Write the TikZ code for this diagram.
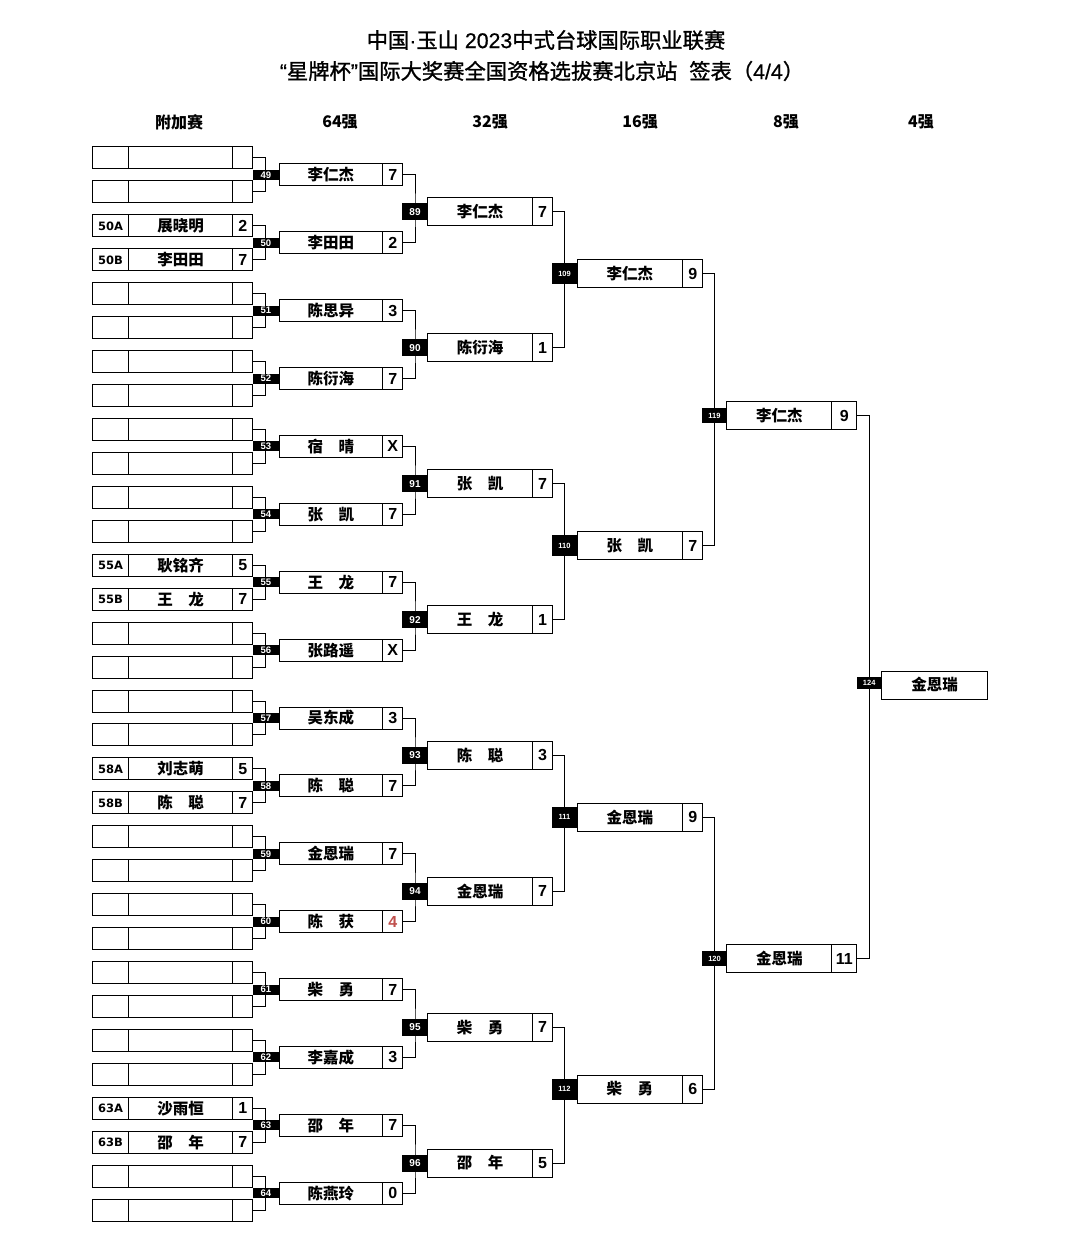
\documentclass[tikz,border=0pt]{standalone}
\usepackage{fontspec}
\setmainfont{Noto Sans CJK SC}
\newfontfamily\titlefam[FakeBold=1.2]{Noto Sans CJK SC}
\newfontfamily\titlelat[FakeBold=0.6]{Liberation Sans}
\newfontfamily\arialfam{Liberation Sans}
\newfontfamily\verdfam{DejaVu Sans}
\usepackage{xcolor}
\definecolor{ink}{HTML}{000000}
\definecolor{cLose}{HTML}{C0504D}
\usepackage{tikz}
\usetikzlibrary{positioning,backgrounds}
\newcommand\fName{\bfseries\fontsize{15.5}{16}\selectfont}
\newcommand\fScore{\arialfam\bfseries\fontsize{16}{16}\selectfont}
\newcommand\fCode{\verdfam\bfseries\fontsize{11.5}{12}\selectfont}
\newcommand\fHead{\bfseries\fontsize{16}{16}\selectfont}
\newcommand\fTitle{\titlefam\fontsize{21.3}{21}\selectfont}
\newcommand\lat[1]{{\titlelat #1}}
\tikzset{
  cell/.style={draw=ink,line width=1pt,fill=white,inner sep=0pt,outer sep=0pt,
    minimum height=22pt,font=\fName},
  tallcell/.style={cell,minimum height=28pt},
  scorecell/.style={font=\fScore},
  tag/.style={fill=ink,text=white,inner sep=0pt,outer sep=0pt,
    font=\arialfam\bfseries\fontsize{#1}{#1}\selectfont},
  tag/.default=9.5,
  codetxt/.style={inner sep=0pt,font=\fCode},
  nametxt/.style={inner sep=0pt,font=\fName},
  scoretxt/.style={inner sep=0pt,font=\fScore},
  link/.style={draw=ink,line width=1pt},
  headtxt/.style={font=\fHead},
  titletxt/.style={font=\fTitle}}

\begin{document}
\begin{tikzpicture}[x=1pt,y=-1pt]
  \useasboundingbox (0,0) rectangle (1080,1246);
  % title and round headers
  \node[titletxt] (t1) at (546,40) {中国\lat{·}玉山\lat{ 2023}中式台球国际职业联赛};
  \node[titletxt] (t2) at (542,71) {\lat{“}星牌杯\lat{”}国际大奖赛全国资格选拔赛北京站\lat{\ \ }签表（\lat{4/4}）};
  \foreach \hd/\hx [count=\c] in {附加赛/179,64强/340,32强/490,16强/640,8强/786,4强/921}
    \node[headtxt] (h\c) at (\hx,122) {\hd};

  % play-off slots
  \foreach \i in {0,...,31}{
    \node[cell,minimum width=35.6pt] (pl\i) at (110.5,158+33.94*\i) {};
    \node[cell,minimum width=104.4pt,right=0pt of pl\i] (pn\i) {};
    \node[cell,minimum width=20pt,right=0pt of pn\i] (ps\i) {};
  }
  \foreach \r/\cd/\nm/\sc in {2/50A/展晓明/2,3/50B/李田田/7,12/55A/耿铭齐/5,13/55B/王　龙/7,
      18/58A/刘志萌/5,19/58B/陈　聪/7,28/63A/沙雨恒/1,29/63B/邵　年/7}{
    \node[codetxt] (pc\r) at (pl\r) {\cd};
    \node[nametxt] (pp\r) at (pn\r) {\nm};
    \node[scoretxt] (pq\r) at (ps\r) {\sc};
  }

  % last 64
  \foreach \nm/\sc [count=\j from 0] in {李仁杰/7,李田田/2,陈思异/3,陈衍海/7,宿　晴/X,张　凯/7,
      王　龙/7,张路遥/X,吴东成/3,陈　聪/7,金恩瑞/7,陈　获/{\color{cLose}4},柴　勇/7,李嘉成/3,
      邵　年/7,陈燕玲/0}{
    \pgfmathtruncatemacro{\mn}{49+\j}
    \node[tag,minimum width=26.3pt,minimum height=10pt] (m\mn) at (265.85,174.97+67.88*\j) {\mn};
    \node[cell,minimum width=103.7pt,right=0pt of m\mn] (n\mn) {\nm};
    \node[cell,scorecell,minimum width=20pt,right=0pt of n\mn] (s\mn) {\sc};
  }

  % last 32
  \foreach \nm/\sc [count=\k from 0] in {李仁杰/7,陈衍海/1,张　凯/7,王　龙/1,陈　聪/3,金恩瑞/7,
      柴　勇/7,邵　年/5}{
    \pgfmathtruncatemacro{\mn}{89+\k}
    \node[tag=10,minimum width=25.7pt,minimum height=17pt] (m\mn) at (415,212+135.86*\k) {\mn};
    \node[tallcell,minimum width=104.6pt,right=0pt of m\mn] (n\mn) {\nm};
    \node[tallcell,scorecell,minimum width=20.4pt,right=0pt of n\mn] (s\mn) {\sc};
  }

  % last 16
  \foreach \nm/\sc [count=\k from 0] in {李仁杰/9,张　凯/7,金恩瑞/9,柴　勇/6}{
    \pgfmathtruncatemacro{\mn}{109+\k}
    \node[tag=7.5,minimum width=25pt,minimum height=21pt] (m\mn) at (564.5,274+271.7*\k) {\mn};
    \node[tallcell,minimum width=105.7pt,right=0pt of m\mn] (n\mn) {\nm};
    \node[tallcell,scorecell,minimum width=20pt,right=0pt of n\mn] (s\mn) {\sc};
  }

  % last 8
  \foreach \nm/\sc [count=\k from 0] in {李仁杰/9,金恩瑞/11}{
    \pgfmathtruncatemacro{\mn}{119+\k}
    \node[tag=7.5,minimum width=24.7pt,minimum height=15pt] (m\mn) at (714.5,415.5+543.3*\k) {\mn};
    \node[tallcell,minimum width=105pt,right=0pt of m\mn] (n\mn) {\nm};
    \node[tallcell,scorecell,minimum width=25pt,right=0pt of n\mn] (s\mn) {\sc};
  }

  % last 4
  \node[tag=7.5,minimum width=25pt,minimum height=12.6pt] (m124) at (869.2,683) {124};
  \node[tallcell,minimum width=105.6pt,right=0pt of m124,yshift=-2pt] (n124) {金恩瑞};

  % brackets
  \begin{scope}[on background layer]
    \fill[white] (0,0) rectangle (1080,1246);
    \foreach \j in {0,...,15}{
      \pgfmathtruncatemacro{\mn}{49+\j}
      \pgfmathtruncatemacro{\ra}{2*\j}
      \pgfmathtruncatemacro{\rb}{2*\j+1}
      \draw[link] (ps\ra.east) -| (m\mn.center) |- (ps\rb.east);
    }
    \foreach \k in {0,...,7}{
      \pgfmathtruncatemacro{\mn}{89+\k}
      \pgfmathtruncatemacro{\ra}{49+2*\k}
      \pgfmathtruncatemacro{\rb}{50+2*\k}
      \draw[link] (s\ra.east) -| (m\mn.center) |- (s\rb.east);
    }
    \foreach \k in {0,...,3}{
      \pgfmathtruncatemacro{\mn}{109+\k}
      \pgfmathtruncatemacro{\ra}{89+2*\k}
      \pgfmathtruncatemacro{\rb}{90+2*\k}
      \draw[link] (s\ra.east) -| (m\mn.center) |- (s\rb.east);
    }
    \foreach \k in {0,1}{
      \pgfmathtruncatemacro{\mn}{119+\k}
      \pgfmathtruncatemacro{\ra}{109+2*\k}
      \pgfmathtruncatemacro{\rb}{110+2*\k}
      \draw[link] (s\ra.east) -| (m\mn.center) |- (s\rb.east);
    }
    \draw[link] (s119.east) -| (m124.center) |- (s120.east);
  \end{scope}
\end{tikzpicture}
\end{document}
